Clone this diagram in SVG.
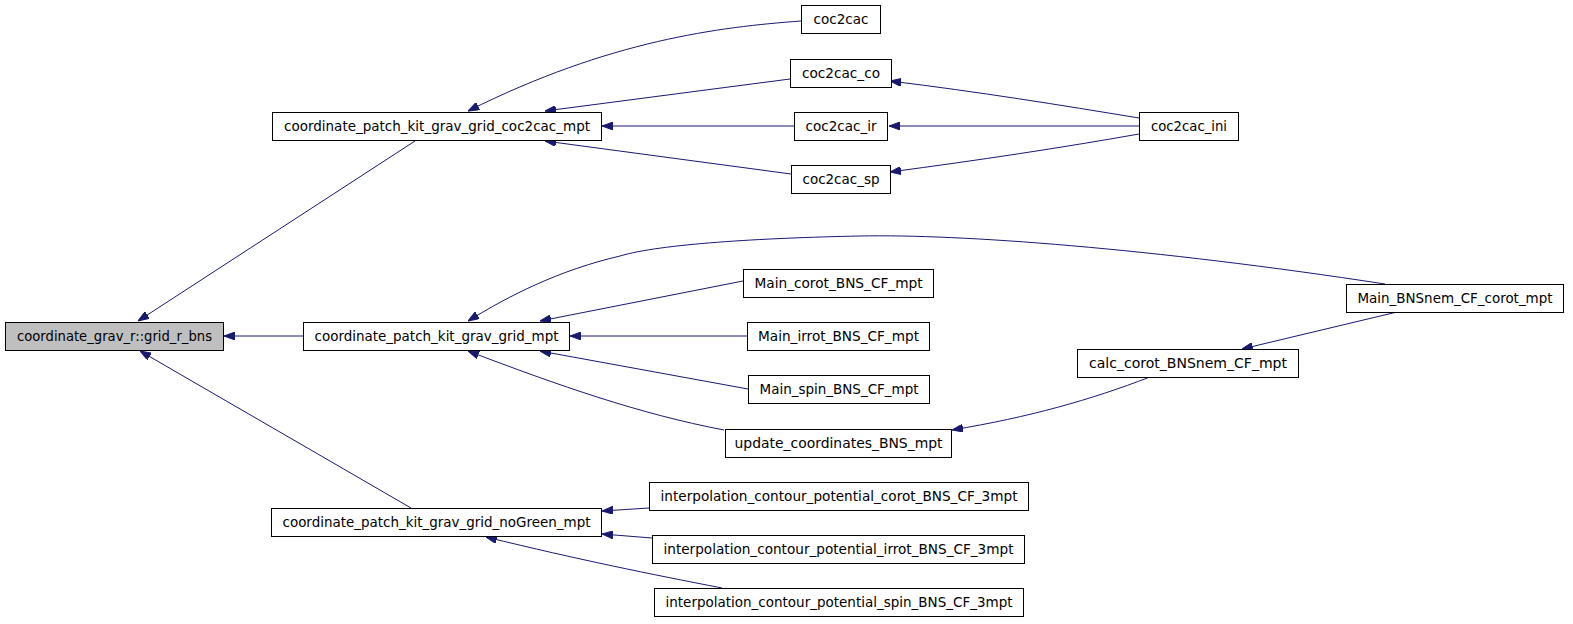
<svg xmlns="http://www.w3.org/2000/svg" width="1573" height="624" viewBox="0 0 1573 624">
<style>
.n rect{fill:#ffffff;stroke:#000000;stroke-width:1}
.n.h rect{fill:#bfbfbf}
.n text{font-family:"DejaVu Sans","Liberation Sans",sans-serif;font-size:13.3px;fill:#000000;text-anchor:middle}
.e path{fill:none;stroke:#191970;stroke-width:1;marker-end:url(#ah)}
</style>
<defs>
<marker id="ah" markerUnits="userSpaceOnUse" viewBox="0 0 11 8" refX="11" refY="4" markerWidth="11" markerHeight="8" orient="auto">
<path d="M0,0 L11,4 L0,8 z" fill="#191970" stroke="#191970" stroke-width="1"/>
</marker>
</defs>
<rect width="1573" height="624" fill="#ffffff"/>
<g id="edges" class="e">
<path d="M415,141 L138,321"/>
<path d="M303,336 L224,336"/>
<path d="M411,508 L140,351"/>
<path d="M801,21 C720,27 610,40 468,111"/>
<path d="M790,79 L545,111"/>
<path d="M794,126 L602,126"/>
<path d="M791,174 L545,141"/>
<path d="M1139,118 C1060,105 980,92 890,81"/>
<path d="M1139,126 L889,126"/>
<path d="M1139,134 C1060,148 980,160 890,172"/>
<path d="M1385,284 C1150,248 960,234 860,236 C760,238 660,244 620,256 C560,270 510,295 468,321"/>
<path d="M743,281 L540,321"/>
<path d="M747,336 L570,336"/>
<path d="M748,389 L540,351"/>
<path d="M724,430 C640,414 560,386 468,351"/>
<path d="M1150,377 C1090,400 1030,417 952,430"/>
<path d="M1397,312 L1242,349"/>
<path d="M649,508 L602,511"/>
<path d="M652,538 L602,534"/>
<path d="M722,588 C650,574 580,560 486,537"/>
</g>
<g id="n_grid_r_bns" class="n h"><rect x="5.5" y="322.5" width="218" height="28"/><text x="114.5" y="341" textLength="195" lengthAdjust="spacingAndGlyphs">coordinate_grav_r::grid_r_bns</text></g>
<g id="n_coc2cac_mpt" class="n"><rect x="272.5" y="112.5" width="329" height="28"/><text x="437" y="131" textLength="306" lengthAdjust="spacingAndGlyphs">coordinate_patch_kit_grav_grid_coc2cac_mpt</text></g>
<g id="n_coc2cac" class="n"><rect x="801.5" y="5.5" width="79" height="28"/><text x="841" y="24" textLength="55" lengthAdjust="spacingAndGlyphs">coc2cac</text></g>
<g id="n_coc2cac_co" class="n"><rect x="790.5" y="59.5" width="101" height="28"/><text x="841" y="78" textLength="78" lengthAdjust="spacingAndGlyphs">coc2cac_co</text></g>
<g id="n_coc2cac_ir" class="n"><rect x="794.5" y="112.5" width="93" height="28"/><text x="841" y="131" textLength="71" lengthAdjust="spacingAndGlyphs">coc2cac_ir</text></g>
<g id="n_coc2cac_sp" class="n"><rect x="791.5" y="165.5" width="99" height="28"/><text x="841" y="184" textLength="77" lengthAdjust="spacingAndGlyphs">coc2cac_sp</text></g>
<g id="n_coc2cac_ini" class="n"><rect x="1139.5" y="112.5" width="99" height="28"/><text x="1189" y="131" textLength="76" lengthAdjust="spacingAndGlyphs">coc2cac_ini</text></g>
<g id="n_grid_mpt" class="n"><rect x="303.5" y="322.5" width="266" height="28"/><text x="436.5" y="341" textLength="244" lengthAdjust="spacingAndGlyphs">coordinate_patch_kit_grav_grid_mpt</text></g>
<g id="n_main_corot" class="n"><rect x="743.5" y="269.5" width="190" height="28"/><text x="838.5" y="288" textLength="168" lengthAdjust="spacingAndGlyphs">Main_corot_BNS_CF_mpt</text></g>
<g id="n_main_irrot" class="n"><rect x="747.5" y="322.5" width="182" height="28"/><text x="838.5" y="341" textLength="161" lengthAdjust="spacingAndGlyphs">Main_irrot_BNS_CF_mpt</text></g>
<g id="n_main_spin" class="n"><rect x="748.5" y="375.5" width="181" height="28"/><text x="839" y="394" textLength="159" lengthAdjust="spacingAndGlyphs">Main_spin_BNS_CF_mpt</text></g>
<g id="n_update" class="n"><rect x="725.5" y="429.5" width="226" height="28"/><text x="838.5" y="448" textLength="208" lengthAdjust="spacingAndGlyphs">update_coordinates_BNS_mpt</text></g>
<g id="n_main_bnsnem" class="n"><rect x="1346.5" y="284.5" width="217" height="28"/><text x="1455" y="303" textLength="195" lengthAdjust="spacingAndGlyphs">Main_BNSnem_CF_corot_mpt</text></g>
<g id="n_calc_corot" class="n"><rect x="1077.5" y="349.5" width="221" height="28"/><text x="1188" y="368" textLength="198" lengthAdjust="spacingAndGlyphs">calc_corot_BNSnem_CF_mpt</text></g>
<g id="n_nogreen" class="n"><rect x="271.5" y="508.5" width="330" height="28"/><text x="436.5" y="527" textLength="308" lengthAdjust="spacingAndGlyphs">coordinate_patch_kit_grav_grid_noGreen_mpt</text></g>
<g id="n_interp_corot" class="n"><rect x="649.5" y="482.5" width="379" height="28"/><text x="839" y="501" textLength="357" lengthAdjust="spacingAndGlyphs">interpolation_contour_potential_corot_BNS_CF_3mpt</text></g>
<g id="n_interp_irrot" class="n"><rect x="652.5" y="535.5" width="372" height="28"/><text x="838.5" y="554" textLength="350" lengthAdjust="spacingAndGlyphs">interpolation_contour_potential_irrot_BNS_CF_3mpt</text></g>
<g id="n_interp_spin" class="n"><rect x="654.5" y="588.5" width="369" height="28"/><text x="839" y="607" textLength="347" lengthAdjust="spacingAndGlyphs">interpolation_contour_potential_spin_BNS_CF_3mpt</text></g>
</svg>
